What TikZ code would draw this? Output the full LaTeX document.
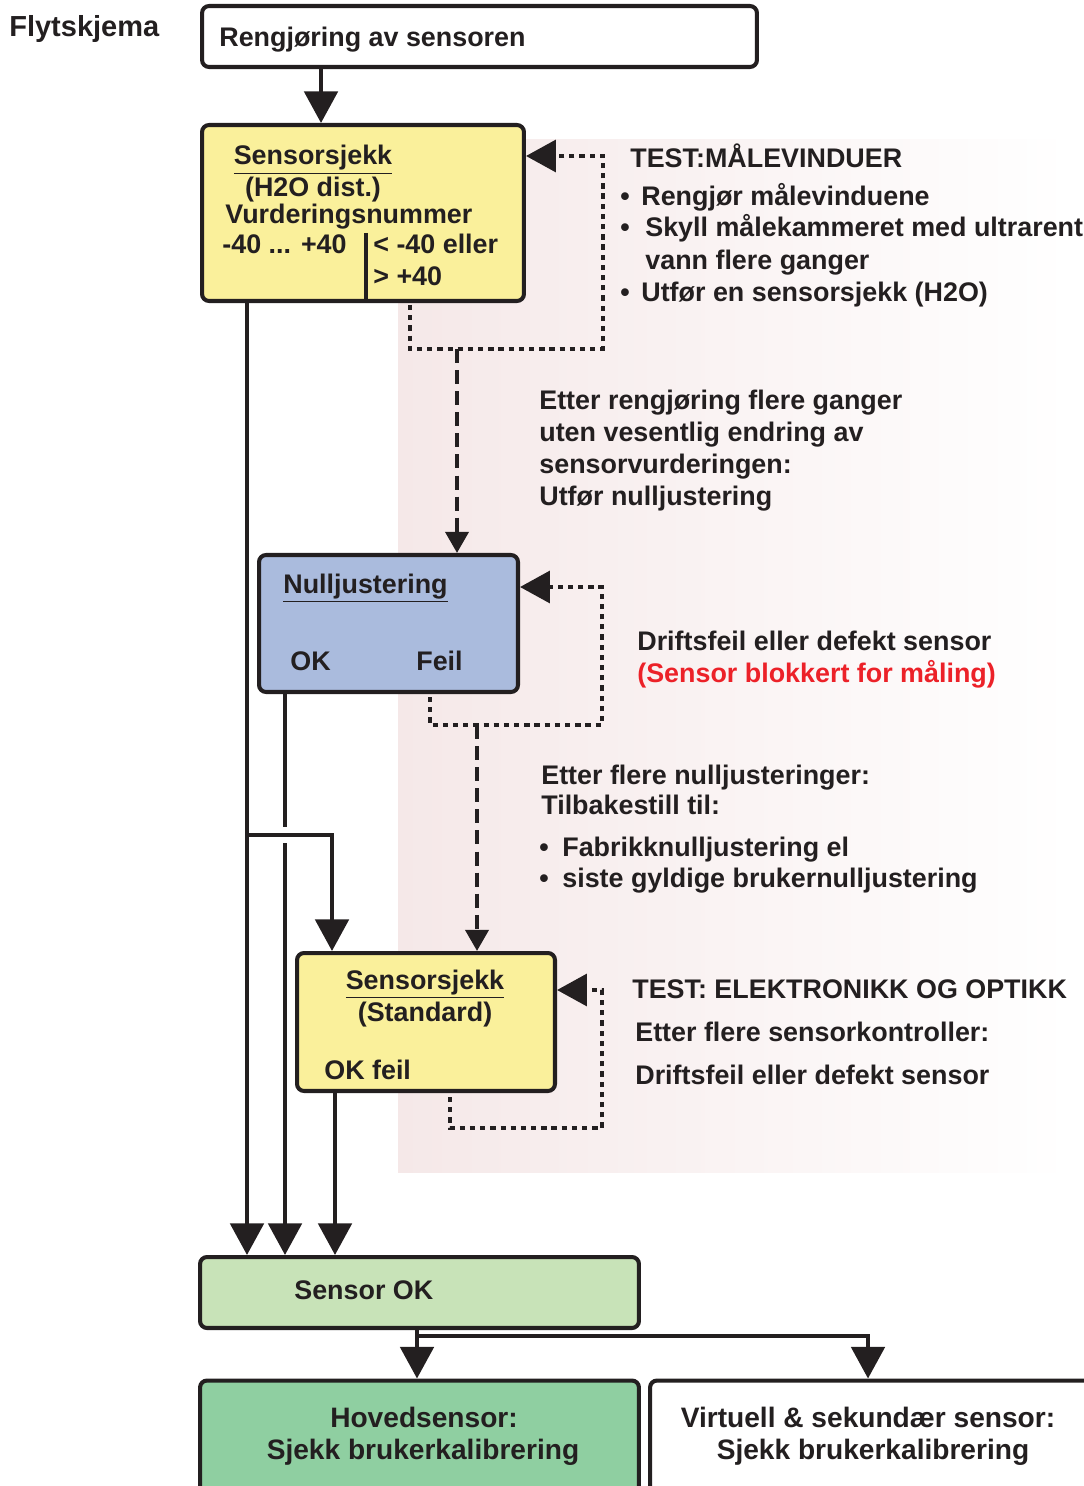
\documentclass[tikz,border=0pt]{standalone}
\usepackage{fontspec}
\setmainfont{Liberation Sans}
\usetikzlibrary{arrows.meta}

\definecolor{ink}{HTML}{231F20}
\definecolor{boxyellow}{HTML}{FAF09B}
\definecolor{boxblue}{HTML}{AABBDD}
\definecolor{boxlight}{HTML}{C8E3B8}
\definecolor{boxgreen}{HTML}{8FCFA1}
\definecolor{bgpink}{HTML}{F5E8E8}
\definecolor{warnred}{HTML}{EC2128}

\tikzset{
  box/.style={draw=ink, line width=2.3pt, rounded corners=4pt, inner sep=0pt},
  txt/.style={text=ink, font=\fontsize{15.3}{18}\selectfont\bfseries, inner sep=0pt, anchor=base west},
  ctxt/.style={txt, anchor=base},
  bigtxt/.style={ctxt, font=\fontsize{16}{19}\selectfont\bfseries},
  flow/.style={draw=ink, line width=2.3pt, -{Triangle[length=18pt,width=19pt]}},
  plain/.style={draw=ink, line width=2.3pt},
  loopback/.style={draw=ink, line width=2.4pt, dash pattern=on 3pt off 2.8pt, -{Triangle[length=17pt,width=18pt]}},
  jump/.style={draw=ink, line width=2.4pt, dash pattern=on 8pt off 4pt, -{Triangle[length=12pt,width=13pt]}},
}

\begin{document}
\begin{tikzpicture}[x=0.02cm, y=-0.02cm]
\useasboundingbox (0,0) rectangle (1084,1486);
\clip (0,0) rectangle (1084,1486);

% background
\shade[left color=bgpink, right color=white] (398,140) rectangle (1070,1172);

% boxes
\node[box, fill=white, minimum width=11.1cm, minimum height=1.22cm] (clean) at (479.5,36.5) {};
\node[box, fill=boxyellow, minimum width=6.44cm, minimum height=3.52cm] (check1) at (363,213) {};
\node[box, fill=boxblue, minimum width=5.18cm, minimum height=2.74cm] (zero) at (388.5,623.5) {};
\node[box, fill=boxyellow, minimum width=5.16cm, minimum height=2.76cm] (check2) at (426,1022) {};
\node[box, fill=boxlight, minimum width=8.78cm, minimum height=1.42cm] (ok) at (419.5,1292.5) {};
\node[box, fill=boxgreen, minimum width=8.78cm, minimum height=2.5cm] (main) at (419.5,1443) {};
\node[box, fill=white, minimum width=9cm, minimum height=2.5cm] (virt) at (875,1443) {};

% texts
\node[txt, font=\fontsize{16.5}{19}\selectfont\bfseries] (title) at (9,37) {Flytskjema};
\node[txt] (t1) at (219,47) {Rengjøring av sensoren};

\node[ctxt] (s1a) at (313,165) {\underline{Sensorsjekk}};
\node[ctxt] (s1b) at (313,197) {(H2O dist.)};
\node[txt] (s1c) at (225,224) {Vurderingsnummer};
\node[txt] (s1d) at (222,254) {-40 ... +40};
\node[txt] (s1e) at (373,254) {< -40 eller};
\node[txt] (s1f) at (373,286) {> +40};
\coordinate (split) at (366,233);
\draw[plain] (split) -- (split |- check1.south);

\node[txt] (n1) at (283,593) {\underline{Nulljustering}};
\node[txt] (n2) at (290,670) {OK};
\node[txt] (n3) at (416,670) {Feil};

\node[ctxt] (s2a) at (425,989) {\underline{Sensorsjekk}};
\node[ctxt] (s2b) at (425,1021) {(Standard)};
\node[txt] (s2c) at (324,1079) {OK feil};

\node[txt] (k1) at (294,1299) {Sensor OK};
\node[bigtxt] (m1) at (424,1427) {Hovedsensor:};
\node[bigtxt] (m2) at (423,1459) {Sjekk brukerkalibrering};
\node[bigtxt] (v1) at (868,1427) {Virtuell \& sekundær sensor:};
\node[bigtxt] (v2) at (873,1459) {Sjekk brukerkalibrering};

% notes
\node[txt] (r1) at (630,168) {TEST:MÅLEVINDUER};
\node[ctxt] (b1) at (625,206) {•};
\node[txt] (r2) at (641,206) {Rengjør målevinduene};
\node[ctxt] (b2) at (625,237) {•};
\node[txt] (r3) at (645,237) {Skyll målekammeret med ultrarent};
\node[txt] (r4) at (645,270) {vann flere ganger};
\node[ctxt] (b3) at (625,302) {•};
\node[txt] (r5) at (641,302) {Utfør en sensorsjekk (H2O)};

\node[txt] (e1) at (539,409) {Etter rengjøring flere ganger};
\node[txt] (e2) at (539,441) {uten vesentlig endring av};
\node[txt] (e3) at (539,473) {sensorvurderingen:};
\node[txt] (e4) at (539,505) {Utfør nulljustering};

\node[txt] (d1) at (637,650) {Driftsfeil eller defekt sensor};
\node[txt, text=warnred] (d2) at (637,682) {(Sensor blokkert for måling)};

\node[txt] (f1) at (541,784) {Etter flere nulljusteringer:};
\node[txt] (f2) at (541,814) {Tilbakestill til:};
\node[ctxt] (b4) at (544,856) {•};
\node[txt] (f3) at (562,856) {Fabrikknulljustering el};
\node[ctxt] (b5) at (544,887) {•};
\node[txt] (f4) at (562,887) {siste gyldige brukernulljustering};

\node[txt] (g1) at (632,998) {TEST: ELEKTRONIKK OG OPTIKK};
\node[txt] (g2) at (635,1041) {Etter flere sensorkontroller:};
\node[txt] (g3) at (635,1084) {Driftsfeil eller defekt sensor};

% columns
\coordinate (xa) at (247,0);
\coordinate (xb) at (285,0);
\coordinate (xc) at (332,0);
\coordinate (xd) at (335,0);
\coordinate (fork) at (247,835);
\coordinate (hop1) at (285,827);
\coordinate (hop2) at (285,843);

% solid flow
\draw[flow] (clean.south -| 321,0) -- (check1.north -| 321,0);
\draw[flow] (check1.south -| xa) -- (ok.north -| xa);
\draw[plain] (zero.south -| xb) -- (hop1);
\draw[flow] (hop2) -- (ok.north -| xb);
\draw[flow] (fork) -| (check2.north -| xc);
\draw[flow] (check2.south -| xd) -- (ok.north -| xd);

\coordinate (split2) at (417,1336);
\draw[flow] (ok.south -| split2) -- (main.north -| split2);
\draw[flow] (split2) -| (virt.north -| 868,0);

% dotted loops
\coordinate (l1) at (603,156);
\draw[loopback] (410,305) -- (410,349) -- (603,349) -- (l1) -- (l1 -| check1.east);
\coordinate (l2) at (602,587);
\draw[loopback] (430,697) -- (430,725) -- (602,725) -- (l2) -- (l2 -| zero.east);
\coordinate (l3) at (602,990);
\draw[loopback] (450,1097) -- (450,1128) -- (602,1128) -- (l3) -- (l3 -| check2.east);

% dashed jumps
\coordinate (j1) at (457,349);
\draw[jump] (j1) -- (zero.north -| j1);
\coordinate (j2) at (477,725);
\draw[jump] (j2) -- (check2.north -| j2);
\end{tikzpicture}
\end{document}
